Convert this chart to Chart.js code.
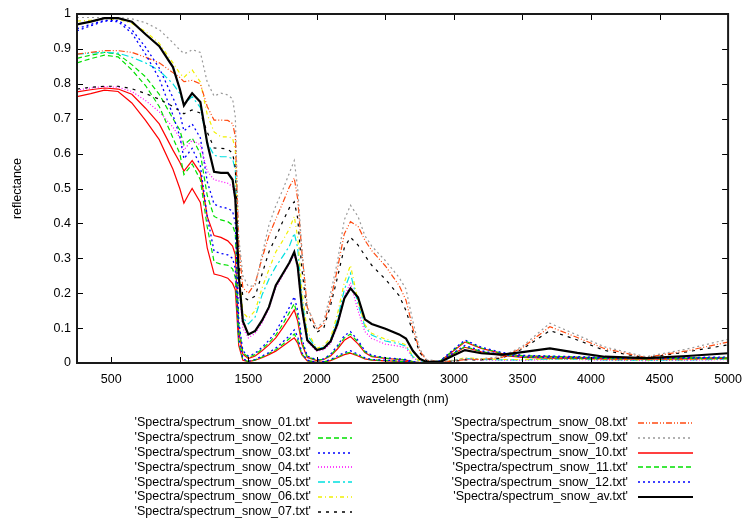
<!DOCTYPE html>
<html>
<head>
<meta charset="utf-8">
<title>Snow spectra</title>
<script src="https://cdn.jsdelivr.net/npm/chart.js@4.4.1/dist/chart.umd.min.js"></script>
<style>
  html, body { margin: 0; padding: 0; background: #fff; }
  #wrap { width: 751px; height: 521px; }
</style>
</head>
<body>
<div id="wrap"><canvas id="spectra" width="751" height="521"></canvas></div>
<script>
// Wavelength grid (nm) shared by every spectrum
const wavelengths = [
  250, 350, 450, 550, 650, 750, 850, 950,
  1000, 1030, 1060, 1090, 1150, 1200, 1250, 1300,
  1350, 1385, 1405, 1430, 1460, 1500, 1550, 1600,
  1650, 1700, 1750, 1800, 1835, 1860, 1890, 1930,
  2000, 2050, 2100, 2150, 2200, 2245, 2300, 2350,
  2400, 2500, 2600, 2650, 2700, 2750, 2800, 2900,
  3000, 3080, 3200, 3350, 3500, 3700, 3900, 4100,
  4400, 4700, 5000
];

// Reflectance values
const snow01 = [
  0.777, 0.783, 0.788, 0.785, 0.770, 0.730, 0.685, 0.610,
  0.575, 0.550, 0.565, 0.580, 0.545, 0.420, 0.365, 0.360,
  0.350, 0.335, 0.310, 0.090, 0.025, 0.013, 0.020, 0.035,
  0.052, 0.072, 0.100, 0.130, 0.152, 0.120, 0.055, 0.016,
  0.007, 0.010, 0.020, 0.040, 0.065, 0.076, 0.055, 0.030,
  0.018, 0.013, 0.010, 0.008, 0.003, 0.001, 0.001, 0.005,
  0.036, 0.060, 0.042, 0.027, 0.020, 0.018, 0.016, 0.014,
  0.013, 0.014, 0.015
];
const snow02 = [
  0.873, 0.882, 0.890, 0.885, 0.855, 0.820, 0.770, 0.700,
  0.668, 0.625, 0.635, 0.645, 0.600, 0.480, 0.420, 0.410,
  0.405, 0.395, 0.370, 0.110, 0.030, 0.016, 0.024, 0.040,
  0.058, 0.080, 0.110, 0.145, 0.170, 0.135, 0.062, 0.018,
  0.008, 0.011, 0.022, 0.045, 0.072, 0.083, 0.060, 0.032,
  0.020, 0.014, 0.011, 0.009, 0.004, 0.001, 0.001, 0.006,
  0.038, 0.063, 0.043, 0.028, 0.021, 0.019, 0.017, 0.015,
  0.014, 0.015, 0.016
];
const snow03 = [
  0.958, 0.970, 0.982, 0.982, 0.955, 0.905, 0.845, 0.760,
  0.715, 0.665, 0.675, 0.685, 0.645, 0.520, 0.455, 0.447,
  0.443, 0.435, 0.400, 0.120, 0.035, 0.020, 0.028, 0.045,
  0.065, 0.090, 0.125, 0.160, 0.190, 0.150, 0.070, 0.020,
  0.009, 0.012, 0.025, 0.050, 0.078, 0.090, 0.065, 0.035,
  0.022, 0.015, 0.012, 0.010, 0.004, 0.001, 0.001, 0.006,
  0.040, 0.066, 0.045, 0.030, 0.022, 0.020, 0.018, 0.016,
  0.015, 0.016, 0.017
];
const snow04 = [
  0.782, 0.788, 0.792, 0.790, 0.778, 0.752, 0.720, 0.676,
  0.645, 0.610, 0.625, 0.638, 0.625, 0.550, 0.525, 0.520,
  0.515, 0.505, 0.470, 0.220, 0.100, 0.072, 0.085, 0.115,
  0.155, 0.215, 0.250, 0.285, 0.310, 0.270, 0.150, 0.060,
  0.034, 0.038, 0.055, 0.105, 0.190, 0.230, 0.150, 0.090,
  0.070, 0.054, 0.048, 0.043, 0.015, 0.004, 0.001, 0.002,
  0.006, 0.011, 0.009, 0.008, 0.008, 0.010, 0.010, 0.008,
  0.007, 0.008, 0.010
];
const snow05 = [
  0.885, 0.888, 0.890, 0.888, 0.876, 0.860, 0.838, 0.800,
  0.772, 0.740, 0.752, 0.763, 0.732, 0.632, 0.595, 0.591,
  0.591, 0.585, 0.552, 0.245, 0.130, 0.112, 0.132, 0.195,
  0.240, 0.276, 0.305, 0.335, 0.372, 0.330, 0.190, 0.080,
  0.040, 0.045, 0.066, 0.125, 0.210, 0.257, 0.170, 0.105,
  0.080, 0.063, 0.055, 0.048, 0.018, 0.005, 0.002, 0.002,
  0.007, 0.013, 0.010, 0.009, 0.009, 0.011, 0.011, 0.009,
  0.008, 0.009, 0.011
];
const snow06 = [
  0.980, 0.982, 0.986, 0.985, 0.973, 0.950, 0.916, 0.860,
  0.830, 0.818, 0.830, 0.840, 0.805, 0.712, 0.662, 0.648,
  0.648, 0.644, 0.610, 0.270, 0.145, 0.128, 0.150, 0.215,
  0.268, 0.318, 0.350, 0.385, 0.420, 0.360, 0.210, 0.090,
  0.042, 0.050, 0.072, 0.140, 0.230, 0.280, 0.178, 0.110,
  0.085, 0.068, 0.060, 0.052, 0.020, 0.006, 0.002, 0.002,
  0.008, 0.015, 0.012, 0.010, 0.010, 0.012, 0.012, 0.010,
  0.009, 0.010, 0.012
];
const snow07 = [
  0.785, 0.790, 0.793, 0.793, 0.786, 0.772, 0.756, 0.735,
  0.722, 0.714, 0.720, 0.725, 0.716, 0.662, 0.616, 0.615,
  0.613, 0.601, 0.560, 0.290, 0.190, 0.180, 0.192, 0.255,
  0.318, 0.360, 0.405, 0.445, 0.462, 0.415, 0.272, 0.140,
  0.088, 0.100, 0.165, 0.245, 0.330, 0.360, 0.338, 0.308,
  0.280, 0.240, 0.193, 0.150, 0.088, 0.030, 0.007, 0.003,
  0.005, 0.009, 0.009, 0.014, 0.040, 0.093, 0.066, 0.036,
  0.014, 0.032, 0.052
];
const snow08 = [
  0.885, 0.890, 0.895, 0.895, 0.890, 0.876, 0.860, 0.832,
  0.818, 0.806, 0.808, 0.810, 0.800, 0.735, 0.696, 0.696,
  0.695, 0.686, 0.650, 0.340, 0.215, 0.200, 0.228, 0.300,
  0.365, 0.412, 0.458, 0.505, 0.530, 0.470, 0.320, 0.160,
  0.095, 0.112, 0.180, 0.270, 0.370, 0.405, 0.392, 0.352,
  0.322, 0.278, 0.222, 0.180, 0.100, 0.035, 0.008, 0.003,
  0.006, 0.010, 0.010, 0.016, 0.044, 0.104, 0.073, 0.041,
  0.016, 0.035, 0.060
];
const snow09 = [
  0.990, 0.990, 0.990, 0.990, 0.986, 0.975, 0.955, 0.918,
  0.897, 0.887, 0.890, 0.898, 0.890, 0.805, 0.765, 0.773,
  0.768, 0.757, 0.705, 0.360, 0.250, 0.219, 0.222, 0.310,
  0.395, 0.450, 0.495, 0.545, 0.580, 0.500, 0.330, 0.160,
  0.100, 0.120, 0.200, 0.290, 0.410, 0.452, 0.420, 0.365,
  0.335, 0.293, 0.245, 0.212, 0.120, 0.040, 0.010, 0.004,
  0.008, 0.013, 0.012, 0.018, 0.048, 0.114, 0.080, 0.046,
  0.018, 0.040, 0.068
];
const snow10 = [
  0.763, 0.772, 0.782, 0.778, 0.745, 0.695, 0.640, 0.555,
  0.500, 0.458, 0.480, 0.500, 0.460, 0.330, 0.255, 0.250,
  0.243, 0.228, 0.210, 0.050, 0.008, 0.004, 0.008, 0.015,
  0.024, 0.034, 0.048, 0.062, 0.072, 0.057, 0.024, 0.006,
  0.002, 0.003, 0.007, 0.015, 0.024, 0.028, 0.020, 0.012,
  0.008, 0.006, 0.005, 0.004, 0.002, 0.001, 0.001, 0.005,
  0.027, 0.045, 0.032, 0.022, 0.016, 0.014, 0.013, 0.012,
  0.011, 0.012, 0.013
];
const snow11 = [
  0.860, 0.872, 0.882, 0.877, 0.840, 0.795, 0.735, 0.645,
  0.600, 0.540, 0.555, 0.570, 0.525, 0.390, 0.290, 0.283,
  0.280, 0.270, 0.245, 0.060, 0.010, 0.004, 0.009, 0.017,
  0.027, 0.038, 0.053, 0.070, 0.083, 0.065, 0.027, 0.007,
  0.002, 0.003, 0.008, 0.017, 0.027, 0.031, 0.022, 0.013,
  0.009, 0.007, 0.005, 0.004, 0.002, 0.001, 0.001, 0.005,
  0.028, 0.047, 0.033, 0.023, 0.017, 0.015, 0.014, 0.013,
  0.012, 0.013, 0.014
];
const snow12 = [
  0.952, 0.966, 0.980, 0.978, 0.945, 0.885, 0.815, 0.710,
  0.650, 0.585, 0.600, 0.615, 0.565, 0.420, 0.320, 0.314,
  0.310, 0.300, 0.270, 0.070, 0.012, 0.005, 0.010, 0.020,
  0.030, 0.043, 0.060, 0.078, 0.095, 0.075, 0.030, 0.008,
  0.002, 0.004, 0.010, 0.020, 0.030, 0.035, 0.025, 0.015,
  0.010, 0.008, 0.006, 0.005, 0.002, 0.001, 0.001, 0.005,
  0.030, 0.050, 0.035, 0.024, 0.018, 0.016, 0.015, 0.014,
  0.013, 0.014, 0.015
];
const snowAv = [
  0.970, 0.978, 0.988, 0.988, 0.978, 0.942, 0.908, 0.848,
  0.785, 0.738, 0.756, 0.773, 0.748, 0.630, 0.548, 0.545,
  0.545, 0.525, 0.470, 0.250, 0.120, 0.082, 0.092, 0.122,
  0.160, 0.222, 0.255, 0.288, 0.318, 0.278, 0.160, 0.065,
  0.037, 0.042, 0.062, 0.112, 0.185, 0.214, 0.188, 0.125,
  0.112, 0.098, 0.082, 0.070, 0.035, 0.012, 0.003, 0.003,
  0.022, 0.037, 0.028, 0.024, 0.031, 0.042, 0.029, 0.018,
  0.014, 0.020, 0.028
];

const seriesLabels = [
  "'Spectra/spectrum_snow_01.txt'", "'Spectra/spectrum_snow_02.txt'",
  "'Spectra/spectrum_snow_03.txt'", "'Spectra/spectrum_snow_04.txt'",
  "'Spectra/spectrum_snow_05.txt'", "'Spectra/spectrum_snow_06.txt'",
  "'Spectra/spectrum_snow_07.txt'", "'Spectra/spectrum_snow_08.txt'",
  "'Spectra/spectrum_snow_09.txt'", "'Spectra/spectrum_snow_10.txt'",
  "'Spectra/spectrum_snow_11.txt'", "'Spectra/spectrum_snow_12.txt'",
  "'Spectra/spectrum_snow_av.txt'"
];
const seriesValues = [snow01, snow02, snow03, snow04, snow05, snow06, snow07,
  snow08, snow09, snow10, snow11, snow12, snowAv];

const xTickValues = [500, 1000, 1500, 2000, 2500, 3000, 3500, 4000, 4500, 5000];
const yTickValues = [0, 0.1, 0.2, 0.3, 0.4, 0.5, 0.6, 0.7, 0.8, 0.9, 1];

// gnuplot-like line types (colour, dash, width); 10-12 repeat 1-3
const lineStyles = [
  { color: '#ff0000', dash: [], width: 1.2 },
  { color: '#00e000', dash: [5, 3], width: 1.2 },
  { color: '#0000ff', dash: [2, 3], width: 1.3 },
  { color: '#ff00ff', dash: [1, 2], width: 1.2 },
  { color: '#00e0e0', dash: [7, 3, 2, 3], width: 1.2 },
  { color: '#f0f000', dash: [4, 3, 1, 3], width: 1.2 },
  { color: '#000000', dash: [3, 5], width: 1.2 },
  { color: '#ff4a10', dash: [6, 2, 1, 2, 1, 2], width: 1.2 },
  { color: '#999999', dash: [2, 3], width: 1.2 },
  { color: '#ff0000', dash: [], width: 1.2 },
  { color: '#00e000', dash: [5, 3], width: 1.2 },
  { color: '#0000ff', dash: [2, 3], width: 1.3 },
  { color: '#000000', dash: [], width: 2.2 }
];

const FONT = '"Liberation Sans", Arial, sans-serif';

// Frame, inward ticks, axis titles and the two-column key
const gnuplotFrame = {
  id: 'gnuplotFrame',
  afterDraw(chart) {
    const { ctx, chartArea: a, scales } = chart;
    ctx.save();
    ctx.strokeStyle = '#000';
    ctx.lineWidth = 1;
    ctx.beginPath();
    xTickValues.forEach(v => {
      const px = Math.round(scales.x.getPixelForValue(v)) + 0.5;
      ctx.moveTo(px, a.bottom); ctx.lineTo(px, a.bottom - 6);
      ctx.moveTo(px, a.top); ctx.lineTo(px, a.top + 6);
    });
    yTickValues.forEach(v => {
      const py = Math.round(scales.y.getPixelForValue(v)) + 0.5;
      ctx.moveTo(a.left, py); ctx.lineTo(a.left + 6, py);
      ctx.moveTo(a.right, py); ctx.lineTo(a.right - 6, py);
    });
    ctx.stroke();

    ctx.strokeStyle = '#1a1a1a';
    ctx.lineWidth = 2;
    ctx.strokeRect(a.left, a.top, a.right - a.left, a.bottom - a.top);

    ctx.fillStyle = '#000';
    ctx.font = '12.5px ' + FONT;
    ctx.textAlign = 'center';
    ctx.textBaseline = 'middle';
    ctx.fillText('wavelength (nm)', (a.left + a.right) / 2, 400);
    ctx.save();
    ctx.translate(18, (a.top + a.bottom) / 2);
    ctx.rotate(-Math.PI / 2);
    ctx.fillText('reflectance', 0, 0);
    ctx.restore();

    // key: 7 rows, two columns, text right-justified then sample
    const cols = [
      { textRight: 311, x0: 318, x1: 352 },
      { textRight: 628, x0: 638, x1: 693 }
    ];
    ctx.textAlign = 'right';
    seriesLabels.forEach((label, i) => {
      const st = lineStyles[i];
      const col = cols[Math.floor(i / 7)];
      const y = 423 + (i % 7) * 14.8;
      ctx.fillStyle = '#000';
      ctx.fillText(label, col.textRight, y);
      ctx.save();
      ctx.beginPath();
      ctx.globalAlpha = 1;
      ctx.strokeStyle = st.color;
      ctx.lineWidth = Math.max(st.width, 1.6);
      ctx.setLineDash(st.dash);
      ctx.moveTo(col.x0, Math.round(y));
      ctx.lineTo(col.x1, Math.round(y));
      ctx.stroke();
      ctx.restore();
    });
    ctx.restore();
  }
};

const datasets = seriesValues.map((vals, i) => ({
  label: seriesLabels[i],
  data: wavelengths.map((w, k) => ({ x: w, y: vals[k] })),
  borderColor: lineStyles[i].color,
  borderDash: lineStyles[i].dash,
  borderWidth: lineStyles[i].width,
  pointRadius: 0,
  tension: 0,
  fill: false,
  order: seriesValues.length - 1 - i
}));

new Chart(document.getElementById('spectra'), {
  type: 'line',
  data: { datasets },
  options: {
    responsive: false,
    animation: false,
    devicePixelRatio: 1,
    layout: { padding: { top: 14, right: 18, left: 0, bottom: 0 } },
    plugins: {
      legend: { display: false },
      tooltip: { enabled: false }
    },
    scales: {
      x: {
        type: 'linear',
        min: 250,
        max: 5000,
        grid: { display: false, drawTicks: false, tickLength: 0 },
        border: { display: false },
        afterFit: s => { s.height = 158; },
        afterBuildTicks: s => { s.ticks = xTickValues.map(v => ({ value: v })); },
        ticks: {
          padding: 9,
          color: '#000',
          font: { family: FONT, size: 12.5 },
          maxRotation: 0,
          callback: v => String(v)
        }
      },
      y: {
        type: 'linear',
        min: 0,
        max: 1,
        grid: { display: false, drawTicks: false, tickLength: 0 },
        border: { display: false },
        afterFit: s => { s.width = 77; },
        afterBuildTicks: s => { s.ticks = yTickValues.map(v => ({ value: v })); },
        ticks: {
          padding: 6,
          color: '#000',
          font: { family: FONT, size: 12.5 },
          callback: v => String(Math.round(v * 10) / 10)
        }
      }
    }
  },
  plugins: [gnuplotFrame]
});
</script>
</body>
</html>
